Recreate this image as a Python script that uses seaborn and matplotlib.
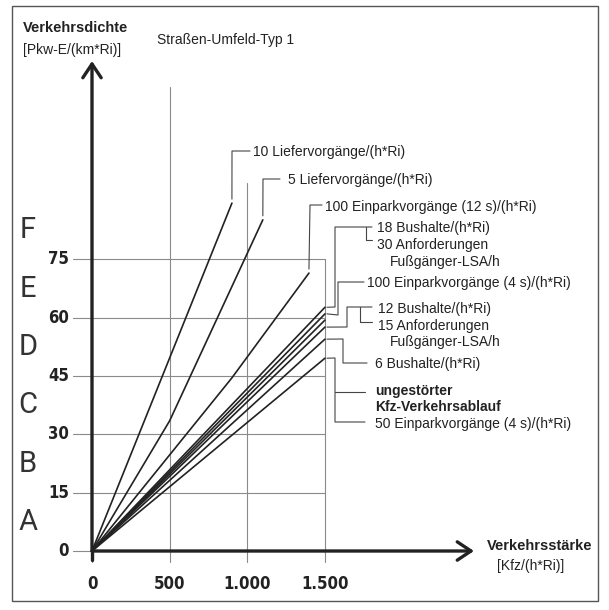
import numpy as np
import pandas as pd
import matplotlib
matplotlib.use("Agg")
import matplotlib.pyplot as plt
from matplotlib.patches import Rectangle
import seaborn as sns

# ---------------- data ----------------
y_ticks = [0, 15, 30, 45, 60, 75]
x_ticks = [0, 500, 1000, 1500]
x_tick_labels = ["0", "500", "1.000", "1.500"]
los_letters = ["A", "B", "C", "D", "E", "F"]
los_mid = [7.5, 22.5, 37.5, 52.5, 67.5, 82.5]

liefer10_x = [0, 901]
liefer10_y = [0, 89.5]
liefer5_x = [0, 500, 1100]
liefer5_y = [0, 33.5, 85.2]
einpark12_x = [0, 900, 1397]
einpark12_y = [0, 44.5, 71.5]
bus18_x = [0, 1500]
bus18_y = [0, 62.7]
einpark100_x = [0, 1500]
einpark100_y = [0, 61.0]
anf30_x = [0, 1500]
anf30_y = [0, 59.4]
bus12_x = [0, 1500]
bus12_y = [0, 57.6]
bus6_x = [0, 1500]
bus6_y = [0, 54.5]
ungest_x = [0, 1500]
ungest_y = [0, 49.6]

series = {
    "10 Liefer": (liefer10_x, liefer10_y),
    "5 Liefer": (liefer5_x, liefer5_y),
    "100 Einpark 12s": (einpark12_x, einpark12_y),
    "18 Bushalte": (bus18_x, bus18_y),
    "100 Einpark 4s": (einpark100_x, einpark100_y),
    "30 Anf": (anf30_x, anf30_y),
    "12 Bushalte": (bus12_x, bus12_y),
    "6 Bushalte": (bus6_x, bus6_y),
    "ungestoert": (ungest_x, ungest_y),
}
rows = []
for name, (xs, ys) in series.items():
    for i, (xx, yy) in enumerate(zip(xs, ys)):
        rows.append({"name": name, "order": i, "x": xx, "y": yy})
df = pd.DataFrame(rows)

# ---------------- layout ----------------
W, H = 609, 610
X0_PX, Y0_PX = 92.0, 551.0
SX, SY = 0.1553, 3.887  # px per data unit

sns.set_theme(style="white")
plt.rcParams["font.family"] = ["Liberation Sans", "DejaVu Sans"]
INK = "#222222"

fig = plt.figure(figsize=(W / 100, H / 100), dpi=100)
ax = fig.add_axes([0, 0, 1, 1])
ax.set_xlim((0 - X0_PX) / SX, (W - X0_PX) / SX)
ax.set_ylim((Y0_PX - H) / SY, Y0_PX / SY)
ax.axis("off")


def P(px, py):
    return ((px - X0_PX) / SX, (Y0_PX - py) / SY)


def to_px(x, y):
    return (X0_PX + x * SX, Y0_PX - y * SY)


# frame
fig.patches.append(Rectangle((12 / W, 1 - 601 / H), (598 - 12) / W, (601 - 6) / H,
                             transform=fig.transFigure, fill=False,
                             edgecolor="#555555", lw=1.0))

grid_c = "#8a8a8a"
for yt in y_ticks:
    ax.plot([P(73, 0)[0], x_ticks[-1]], [yt, yt], color=grid_c, lw=0.8, zorder=1)
v_tops = {0: 0, 500: P(0, 87)[1], 1000: P(0, 183)[1], 1500: 75}
for xt in x_ticks:
    ax.plot([xt, xt], [P(0, 562)[1], v_tops[xt]], color=grid_c, lw=0.8, zorder=1)

# axes with arrows
ax.plot([0, 0], [P(0, 560)[1], 0], color=INK, lw=2.4, zorder=3)
ax.annotate("", xy=P(92, 61), xytext=(0, 0),
            arrowprops=dict(arrowstyle="->,head_length=0.45,head_width=0.3",
                            lw=2.4, color=INK, mutation_scale=22,
                            shrinkA=0, shrinkB=0), zorder=3)
ax.annotate("", xy=P(474, 551), xytext=(0, 0),
            arrowprops=dict(arrowstyle="->,head_length=0.45,head_width=0.3",
                            lw=2.4, color=INK, mutation_scale=22,
                            shrinkA=0, shrinkB=0), zorder=3)

# data lines
sns.lineplot(data=df, x="x", y="y", units="name", estimator=None, sort=False,
             color=INK, lw=1.2, ax=ax, zorder=2, legend=False)

# tick labels
tick_font = dict(family=["DejaVu Sans"], fontstretch="condensed",
                 fontweight="bold", fontsize=12, color=INK)
for yt in y_ticks:
    ax.text(P(69, 0)[0], yt, str(yt), ha="right", va="center", **tick_font)
for xt, lab in zip(x_ticks, x_tick_labels):
    ax.text(xt, P(0, 584)[1], lab, ha="center", va="center", **tick_font)

# LOS letters
for lt, ym in zip(los_letters, los_mid):
    ax.text(P(28, 0)[0], ym, lt, ha="center", va="center", fontsize=21,
            family=["Roboto", "DejaVu Sans"], fontweight="normal", color="#333333")

# axis titles
ax.text(*P(23, 28), "Verkehrsdichte", ha="left", va="center", fontsize=10.5,
        fontweight="bold", color=INK)
ax.text(*P(23, 50), "[Pkw-E/(km*Ri)]", ha="left", va="center", fontsize=10, color=INK)
ax.text(*P(157, 40), "Straßen-Umfeld-Typ 1", ha="left", va="center", fontsize=10, color=INK)
ax.text(*P(487, 546), "Verkehrsstärke", ha="left", va="center", fontsize=10.5,
        fontweight="bold", color=INK)
ax.text(*P(497, 566), "[Kfz/(h*Ri)]", ha="left", va="center", fontsize=10, color=INK)

# connectors and labels
con_c = "#444444"


def connector(name, pts_px, gap_up=False):
    xs, ys = series[name]
    ex, ey = to_px(xs[-1], ys[-1])
    path = [(ex, ey - 4) if gap_up else (ex + 2, ey)] + pts_px
    ax.plot([P(a, b)[0] for a, b in path], [P(a, b)[1] for a, b in path],
            color=con_c, lw=0.8, zorder=2)


def seg(pts_px):
    ax.plot([P(a, b)[0] for a, b in pts_px], [P(a, b)[1] for a, b in pts_px],
            color=con_c, lw=0.8, zorder=2)


lab_fs = 10
connector("10 Liefer", [(232, 151), (250, 151)], gap_up=True)
ax.text(*P(253, 152), "10 Liefervorgänge/(h*Ri)", fontsize=lab_fs, va="center", color=INK)
connector("5 Liefer", [(263, 179), (280, 179)], gap_up=True)
ax.text(*P(288, 180), "5 Liefervorgänge/(h*Ri)", fontsize=lab_fs, va="center", color=INK)
connector("100 Einpark 12s", [(310, 205), (322, 205)], gap_up=True)
ax.text(*P(325, 207), "100 Einparkvorgänge (12 s)/(h*Ri)", fontsize=lab_fs, va="center", color=INK)

connector("18 Bushalte", [(335, 307), (335, 227), (372, 227)])
seg([(366, 227), (366, 240), (372, 240)])
ax.text(*P(377, 228), "18 Bushalte/(h*Ri)", fontsize=lab_fs, va="center", color=INK)
ax.text(*P(377, 245), "30 Anforderungen", fontsize=lab_fs, va="center", color=INK)
ax.text(*P(390, 262), "Fußgänger-LSA/h", fontsize=lab_fs, va="center", color=INK)

connector("100 Einpark 4s", [(338, 315), (338, 282), (364, 282)])
ax.text(*P(367, 283), "100 Einparkvorgänge (4 s)/(h*Ri)", fontsize=lab_fs, va="center", color=INK)

connector("12 Bushalte", [(347, 327), (347, 307), (372, 307)])
seg([(360, 307), (360, 322), (372, 322)])
ax.text(*P(378, 309), "12 Bushalte/(h*Ri)", fontsize=lab_fs, va="center", color=INK)
ax.text(*P(378, 326), "15 Anforderungen", fontsize=lab_fs, va="center", color=INK)
ax.text(*P(390, 342), "Fußgänger-LSA/h", fontsize=lab_fs, va="center", color=INK)

connector("6 Bushalte", [(343, 339), (343, 363), (367, 363)])
ax.text(*P(375, 364), "6 Bushalte/(h*Ri)", fontsize=lab_fs, va="center", color=INK)

connector("ungestoert", [(335, 358), (335, 422), (365, 422)])
seg([(335, 392), (365, 392)])
ax.text(*P(375, 391), "ungestörter", fontsize=lab_fs, va="center", fontweight="bold", color=INK)
ax.text(*P(375, 407), "Kfz-Verkehrsablauf", fontsize=lab_fs, va="center", fontweight="bold", color=INK)
ax.text(*P(375, 424), "50 Einparkvorgänge (4 s)/(h*Ri)", fontsize=lab_fs, va="center", color=INK)

fig.savefig("out.png", dpi=100, facecolor="white")
